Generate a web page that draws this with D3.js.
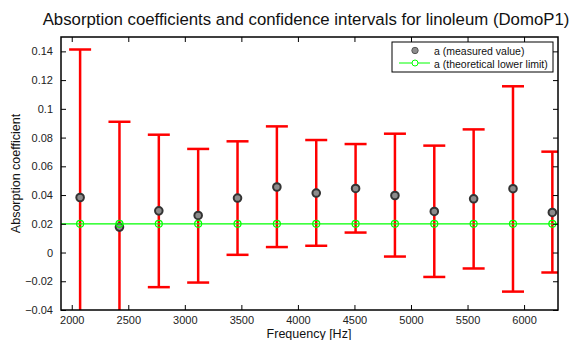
<!DOCTYPE html>
<html>
<head>
<meta charset="utf-8">
<script src="https://cdn.jsdelivr.net/npm/d3@7"></script>
<style>
  body { margin: 0; background: #fff; }
  svg { font-family: "Liberation Sans", Arial, sans-serif; }
</style>
</head>
<body>
<div id="chart"></div>
<script>
// frequencies (Hz) and measured absorption with confidence bounds
const freqs = [2074, 2422, 2770, 3118, 3466, 3814, 4162, 4510, 4858, 5206, 5554, 5902, 6250];
const measured = [0.0383, 0.0177, 0.029, 0.0258, 0.0379, 0.0456, 0.0414, 0.0446, 0.0397, 0.0286, 0.0374, 0.0444, 0.0279];
const upper = [0.1413, 0.0910, 0.0820, 0.0721, 0.0774, 0.0878, 0.0783, 0.0755, 0.0827, 0.0744, 0.0857, 0.1157, 0.0702];
const lower = [-0.065, -0.056, -0.0241, -0.0209, -0.0016, 0.0038, 0.0047, 0.0139, -0.0028, -0.0170, -0.0111, -0.0272, -0.0139];
const lowerLimit = 0.02;
const xTicks = [2000, 2500, 3000, 3500, 4000, 4500, 5000, 5500, 6000];
const yTicks = [-0.04, -0.02, 0, 0.02, 0.04, 0.06, 0.08, 0.1, 0.12, 0.14];

const width = 578, height = 340;
const margin = { top: 37, right: 20, bottom: 30, left: 61 };
const plotW = width - margin.left - margin.right;
const plotH = height - margin.top - margin.bottom;

const svg = d3.select("#chart").append("svg")
    .attr("width", width)
    .attr("height", height);

const x = d3.scaleLinear().domain([1905, 6300]).range([0, plotW]);
const y = d3.scaleLinear().domain([-0.04, 0.15]).range([plotH, 0]);

const g = svg.append("g")
    .attr("transform", `translate(${margin.left},${margin.top})`);

svg.append("defs").append("clipPath").attr("id", "clip")
  .append("rect").attr("width", plotW).attr("height", plotH);

const data = freqs.map((f, i) => ({ f, m: measured[i], hi: upper[i], lo: lower[i] }));

// error bars
const plot = g.append("g").attr("clip-path", "url(#clip)");
const capW = 11;
const eb = plot.selectAll(".eb").data(data).enter().append("g").attr("class", "eb");
eb.append("line")
    .attr("x1", d => x(d.f)).attr("x2", d => x(d.f))
    .attr("y1", d => y(d.hi)).attr("y2", d => y(d.lo))
    .attr("stroke", "#ff0000").attr("stroke-width", 2.5);
eb.append("line")
    .attr("x1", d => x(d.f) - capW).attr("x2", d => x(d.f) + capW)
    .attr("y1", d => y(d.hi)).attr("y2", d => y(d.hi))
    .attr("stroke", "#ff0000").attr("stroke-width", 2.5);
eb.append("line")
    .attr("x1", d => x(d.f) - capW).attr("x2", d => x(d.f) + capW)
    .attr("y1", d => y(d.lo)).attr("y2", d => y(d.lo))
    .attr("stroke", "#ff0000").attr("stroke-width", 2.5);

// measured points
plot.selectAll(".pt").data(data).enter().append("circle")
    .attr("class", "pt")
    .attr("cx", d => x(d.f)).attr("cy", d => y(d.m))
    .attr("r", 3.8)
    .attr("fill", "#8c8c8c").attr("stroke", "#333").attr("stroke-width", 2);

// theoretical lower limit
plot.append("line")
    .attr("x1", 0).attr("x2", plotW)
    .attr("y1", y(lowerLimit)).attr("y2", y(lowerLimit))
    .attr("stroke", "#00ff00").attr("stroke-width", 1.2);
plot.selectAll(".th").data(freqs).enter().append("circle")
    .attr("class", "th")
    .attr("cx", d => x(d)).attr("cy", y(lowerLimit))
    .attr("r", 3.5)
    .attr("fill", "none").attr("stroke", "#00ff00").attr("stroke-width", 1.2);

// axes with inward ticks on all sides
const tickLen = 5;
const axisB = g.append("g").attr("transform", `translate(0,${plotH})`)
    .call(d3.axisBottom(x).tickValues(xTicks).tickSizeInner(-tickLen).tickSizeOuter(0).tickPadding(6).tickFormat(d3.format("d")));
const axisT = g.append("g")
    .call(d3.axisTop(x).tickValues(xTicks).tickSizeInner(-tickLen).tickSizeOuter(0).tickFormat(""));
const axisL = g.append("g")
    .call(d3.axisLeft(y).tickValues(yTicks).tickSizeInner(-tickLen).tickSizeOuter(0).tickPadding(8)
        .tickFormat(d => d === 0 ? "0" : (d < 0 ? "\u2212" : "") + String(Math.abs(+d.toFixed(2)))));
const axisR = g.append("g").attr("transform", `translate(${plotW},0)`)
    .call(d3.axisRight(y).tickValues(yTicks).tickSizeInner(-tickLen).tickSizeOuter(0).tickFormat(""));

[axisB, axisT, axisL, axisR].forEach(a => {
    a.select(".domain").remove();
    a.selectAll(".tick line").attr("stroke", "#000").attr("stroke-width", 1);
    a.selectAll(".tick text").attr("font-size", 11).attr("fill", "#222")
        .attr("font-family", "'Liberation Sans', Arial, sans-serif");
});

g.append("rect")
    .attr("width", plotW).attr("height", plotH)
    .attr("fill", "none").attr("stroke", "#000").attr("stroke-width", 1.5);

// title and labels
svg.append("text")
    .attr("x", 306).attr("y", 25)
    .attr("text-anchor", "middle").attr("font-size", 16.8).attr("fill", "#111")
    .text("Absorption coefficients and confidence intervals for linoleum (DomoP1)");

svg.append("text")
    .attr("x", 309).attr("y", 338)
    .attr("text-anchor", "middle").attr("font-size", 12.5).attr("fill", "#111")
    .text("Frequency [Hz]");

svg.append("text")
    .attr("transform", `translate(20,${margin.top + plotH / 2}) rotate(-90)`)
    .attr("text-anchor", "middle").attr("font-size", 12.5).attr("fill", "#111")
    .text("Absorption coefficient");

// legend
const lg = svg.append("g").attr("transform", "translate(392,42)");
lg.append("rect").attr("width", 161).attr("height", 30)
    .attr("fill", "#fff").attr("stroke", "#000").attr("stroke-width", 1);
lg.append("circle").attr("cx", 23).attr("cy", 8.5).attr("r", 3.2)
    .attr("fill", "#8c8c8c").attr("stroke", "#555").attr("stroke-width", 1);
lg.append("line").attr("x1", 7).attr("x2", 38).attr("y1", 21).attr("y2", 21)
    .attr("stroke", "#00ff00").attr("stroke-width", 1);
lg.append("circle").attr("cx", 23).attr("cy", 21).attr("r", 3)
    .attr("fill", "#fff").attr("stroke", "#00ff00").attr("stroke-width", 1);
lg.append("text").attr("x", 42).attr("y", 12.5).attr("font-size", 10.5).attr("fill", "#111")
    .text("a (measured value)");
lg.append("text").attr("x", 42).attr("y", 25.5).attr("font-size", 10.5).attr("fill", "#111")
    .text("a (theoretical lower limit)");
</script>
</body>
</html>
